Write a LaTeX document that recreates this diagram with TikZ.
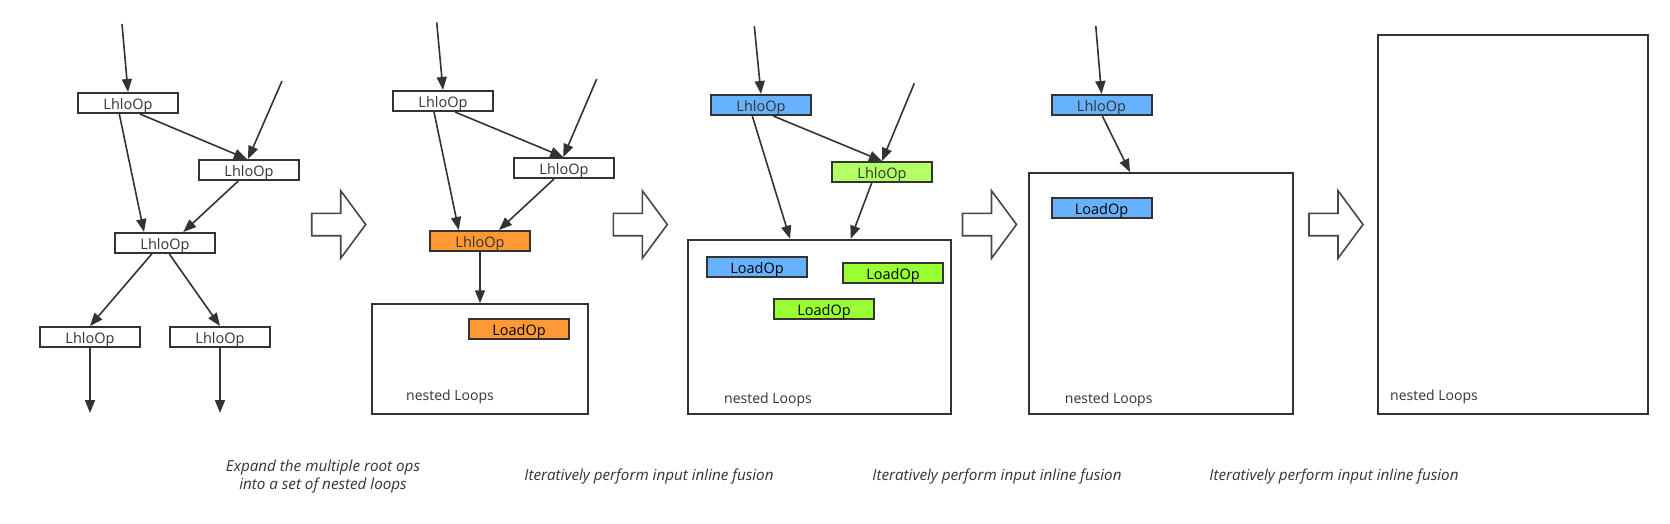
\documentclass[tikz,border=0pt]{standalone}
\usepackage{fontspec}
\setmainfont{Open Sans}
\usetikzlibrary{arrows.meta,calc}
\definecolor{ln}{HTML}{333333}
\definecolor{orng}{HTML}{FF9933}
\definecolor{blu}{HTML}{66B2FF}
\definecolor{lgrn}{HTML}{B3FF66}
\definecolor{grn}{HTML}{99FF33}
\tikzset{
  op/.style={draw=ln,line width=2pt,minimum width=100pt,minimum height=20pt,inner sep=0pt,
    font=\fontsize{14.5}{14.5}\selectfont,text=ln,fill=white,text height=13pt,text depth=0pt},
  ldop/.style={op,text=black},
  loopbox/.style={draw=ln,line width=2pt,inner sep=0pt,fill=white},
  lbl/.style={font=\fontsize{14}{14}\selectfont,text=ln,inner sep=0pt},
  capt/.style={font=\fontsize{15.2}{17.5}\selectfont\itshape,text=ln,align=center,inner sep=0pt},
  conn/.style={draw=ln,line width=1.6pt,-{Triangle[length=13pt,width=10pt]}},
  blockarrow/.style={draw=ln!90,line width=1.6pt,fill=white,line join=miter},
  bigarrow/.pic={\path[blockarrow] (0,-11.2) -- (29,-11.2) -- (29,-33.8) -- (54,0) -- (29,33.8) -- (29,11.2) -- (0,11.2) -- cycle;}
}
\begin{document}
\begin{tikzpicture}[x=1pt,y=-1pt]
\useasboundingbox (0,0) rectangle (1670,523);

% ---------- panel 1 ----------
\node[op] (n11) at (128,103) {LhloOp};
\node[op] (n12) at (249,170) {LhloOp};
\node[op] (n13) at (165,243) {LhloOp};
\node[op] (n14) at (90,337) {LhloOp};
\node[op] (n15) at (220,337) {LhloOp};
\coordinate (in11) at (122,24);
\coordinate (in12) at (282,81);
\coordinate (out14) at (90,413);
\coordinate (out15) at (220,413);
\draw[conn] (in11) -- (n11.north);
\draw[conn] (in12) -- ([xshift=-1pt]n12.north);
\draw[conn] ([xshift=12pt]n11.south) -- ([xshift=-2pt]n12.north);
\draw[conn] ([xshift=-8.7pt]n11.south) -- ([xshift=-21pt]n13.north);
\draw[conn] ([xshift=-10.7pt]n12.south) -- ([xshift=18.3pt]n13.north);
\draw[conn] ([xshift=-13.3pt]n13.south) -- (n14.north);
\draw[conn] ([xshift=4.3pt]n13.south) -- (n15.north);
\draw[conn] (n14.south) -- (out14);
\draw[conn] (n15.south) -- (out15);

\pic at (311.7,224.5) {bigarrow};

% ---------- panel 2 ----------
\node[loopbox,minimum width=216.6pt,minimum height=110pt] (loop2) at (480,359.3) {};
\node[op] (n21) at (443,101) {LhloOp};
\node[op] (n22) at (564,168) {LhloOp};
\node[op,fill=orng] (n23) at (480,241) {LhloOp};
\node[ldop,fill=orng] (ld2) at (519,329) {LoadOp};
\node[lbl] (nl2) at (450,397) {nested Loops};
\coordinate (in21) at (436.7,22.3);
\coordinate (in22) at (596.7,79);
\draw[conn] (in21) -- (n21.north);
\draw[conn] (in22) -- ([xshift=-0.7pt]n22.north);
\draw[conn] ([xshift=12pt]n21.south) -- ([xshift=-0.7pt]n22.north);
\draw[conn] ([xshift=-9pt]n21.south) -- ([xshift=-21.3pt]n23.north);
\draw[conn] ([xshift=-10pt]n22.south) -- ([xshift=19pt]n23.north);
\draw[conn] (n23.south) -- (loop2.north);

\pic at (613.3,224.5) {bigarrow};

% ---------- panel 3 ----------
\node[loopbox,minimum width=263.6pt,minimum height=174.6pt] (loop3) at (819.5,327) {};
\node[op,fill=blu] (n31) at (761,105) {LhloOp};
\node[op,fill=lgrn] (n32) at (882,172) {LhloOp};
\node[ldop,fill=blu] (ld31) at (757,267) {LoadOp};
\node[ldop,fill=grn] (ld32) at (893,273) {LoadOp};
\node[ldop,fill=grn] (ld33) at (824,309) {LoadOp};
\node[lbl] (nl3) at (768,400) {nested Loops};
\coordinate (in31) at (754.3,26);
\coordinate (in32) at (914.3,83.3);
\draw[conn] (in31) -- (n31.north);
\draw[conn] (in32) -- (n32.north);
\draw[conn] ([xshift=12.3pt]n31.south) -- (n32.north);
\draw[conn] ([xshift=-8.7pt]n31.south) -- ([xshift=-29.5pt]loop3.north);
\draw[conn] ([xshift=-10.3pt]n32.south) -- ([xshift=31.2pt]loop3.north);

\pic at (962.5,224.5) {bigarrow};

% ---------- panel 4 ----------
\node[loopbox,minimum width=264.4pt,minimum height=241.3pt] (loop4) at (1160.7,293.7) {};
\node[op,fill=blu] (n41) at (1101.5,105) {LhloOp};
\node[ldop,fill=blu] (ld4) at (1101.5,208) {LoadOp};
\node[lbl] (nl4) at (1108.7,400) {nested Loops};
\coordinate (in41) at (1095.8,26);
\draw[conn] (in41) -- (n41.north);
\draw[conn] ([xshift=0.8pt]n41.south) -- ([xshift=-30.7pt]loop4.north);

\pic at (1309,224.5) {bigarrow};

% ---------- panel 5 ----------
\node[loopbox,minimum width=269.7pt,minimum height=379.6pt] (loop5) at (1512.9,224.5) {};
\node[lbl] (nl5) at (1434,397) {nested Loops};

% ---------- captions ----------
\node[capt] (c1) at (323,476.5) {Expand the multiple root ops\\into a set of nested loops};
\node[capt] (c2) at (649,477) {Iteratively perform input inline fusion};
\node[capt] (c3) at (997,477) {Iteratively perform input inline fusion};
\node[capt] (c4) at (1334,477) {Iteratively perform input inline fusion};
\end{tikzpicture}
\end{document}
